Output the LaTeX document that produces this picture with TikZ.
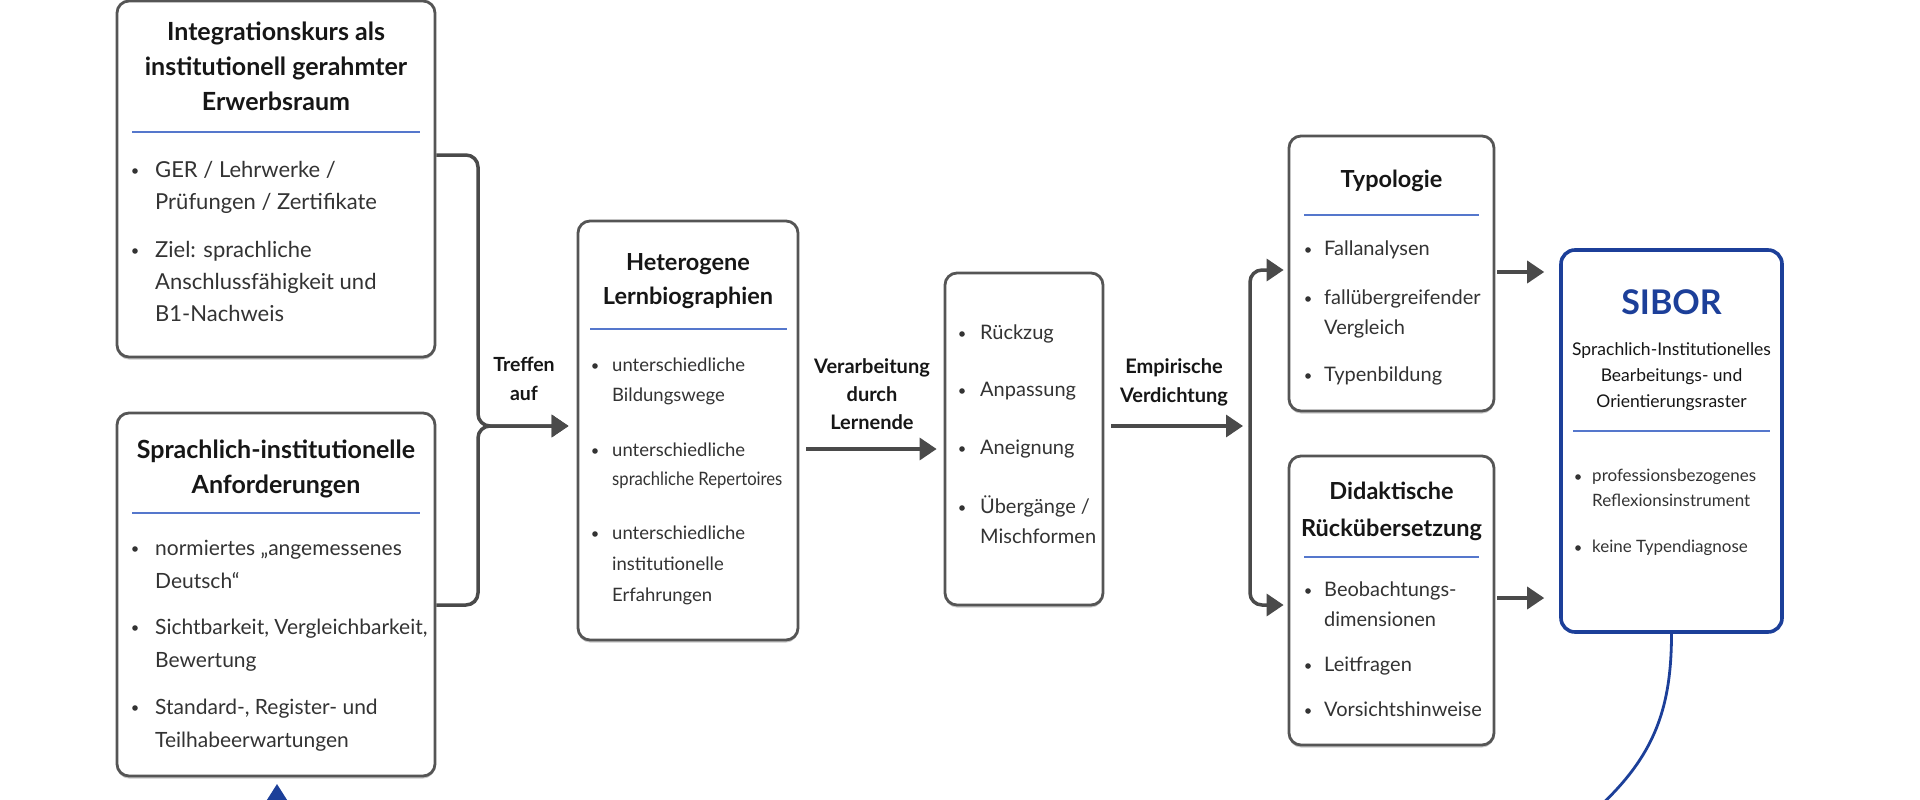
\documentclass[tikz,border=0pt]{standalone}
\usepackage{fontspec}
\setmainfont{Lato}
\usetikzlibrary{arrows.meta,shadows,calc}
\definecolor{boxgray}{HTML}{555555}
\definecolor{arrowgray}{HTML}{4A4A4A}
\definecolor{rulebl}{HTML}{5577CC}
\definecolor{siborbl}{HTML}{1C3F99}
\definecolor{bodycol}{HTML}{333333}
\definecolor{titlecol}{HTML}{161616}
\newcommand\mytxt[7]{\node[#2, font=#3] (#1) at (#5,{#6-0.57*#4}) {\rule{0pt}{\dimexpr #4pt*9/10\relax}#7};}
\newcommand\mybul[7]{\fill[bodycol] (#4,#6+1) circle (2.8pt);\mytxt{#1}{itmS}{\fontsize{#2}{#3}\selectfont}{#2}{#5}{#6}{#7}}
\tikzset{
 box/.style={draw=boxgray, line width=2.8pt, rounded corners=12pt, fill=white, inner sep=0pt,
   drop shadow={shadow xshift=0pt, shadow yshift=-2.5pt, opacity=.35, fill=black!60}},
 siborbox/.style={draw=siborbl, line width=3.6pt, rounded corners=14pt, fill=white, inner sep=0pt},
 ttlS/.style={anchor=north, align=center, inner sep=0pt, text=titlecol},
 itmS/.style={anchor=north west, align=left, inner sep=0pt, text=bodycol},
 conn/.style={draw=arrowgray, line width=3.5pt, -{Triangle[length=17pt,width=22pt]}},
 fb/.style={draw=siborbl, line width=2.8pt, -{Triangle[length=18pt,width=22pt]}},
 brule/.style={draw=rulebl, line width=2.5pt},
}
\begin{document}
\begin{tikzpicture}[x=1pt,y=-1pt]
\useasboundingbox (0,0) rectangle (1920,800);
\fill[white] (0,0) rectangle (1920,800);
\clip (0,0) rectangle (1920,800);

% boxes
\node[box, minimum width=318pt, minimum height=356pt] (b1) at (276,179) {};
\node[box, minimum width=318pt, minimum height=363pt] (b2) at (276,594.5) {};
\node[box, minimum width=220pt, minimum height=419pt] (b3) at (688,430.5) {};
\node[box, minimum width=158pt, minimum height=332pt] (b4) at (1024,439) {};
\node[box, minimum width=205pt, minimum height=275pt] (typ) at (1391.5,273.5) {};
\node[box, minimum width=205pt, minimum height=289pt] (did) at (1391.5,600.5) {};
\node[siborbox, minimum width=221pt, minimum height=382pt] (sib) at (1671.5,441) {};

% box 1
\mytxt{t1}{ttlS}{\bfseries\fontsize{25}{35}\selectfont}{25}{276}{32}{Integrationskurs als\\institutionell gerahmter\\Erwerbsraum}
\draw[brule] (132,132) -- (420,132);
\mybul{i11}{22}{32}{135}{155}{170}{GER / Lehrwerke /\\Prüfungen / Zertifikate}
\mybul{i12}{22}{32}{135}{155}{250}{Ziel: sprachliche\\Anschlussfähigkeit und\\B1-Nachweis}

% box 2
\mytxt{t2}{ttlS}{\bfseries\fontsize{25}{35}\selectfont}{25}{276}{450}{Sprachlich-institutionelle\\Anforderungen}
\draw[brule] (132,513) -- (420,513);
\mybul{i21}{21}{33}{135}{155}{548}{normiertes „angemessenes\\Deutsch“}
\mybul{i22}{21}{33}{135}{155}{627}{Sichtbarkeit, Vergleichbarkeit,\\Bewertung}
\mybul{i23}{21}{33}{135}{155}{707}{Standard-, Register- und\\Teilhabeerwartungen}

% box 3
\mytxt{t3}{ttlS}{\bfseries\fontsize{23.5}{34}\selectfont}{23.5}{688}{263}{Heterogene\\Lernbiographien}
\draw[brule] (590,329) -- (787,329);
\mybul{i31}{18.5}{30}{595}{612}{365}{unterschiedliche\\Bildungswege}
\mybul{i32}{18.5}{29}{595}{612}{450}{unterschiedliche\\{\addfontfeatures{FakeStretch=0.9}sprachliche Repertoires}}
\mybul{i33}{18.5}{31}{595}{612}{533}{unterschiedliche\\institutionelle\\Erfahrungen}

% box 4
\mybul{i41}{20}{30}{962}{980}{333}{Rückzug}
\mybul{i42}{20}{30}{962}{980}{390}{Anpassung}
\mybul{i43}{20}{30}{962}{980}{448}{Aneignung}
\mybul{i44}{20}{30}{962}{980}{507}{Übergänge /\\Mischformen}

% Typologie
\mytxt{t5}{ttlS}{\bfseries\fontsize{23.5}{34}\selectfont}{23.5}{1391.5}{180}{Typologie}
\draw[brule] (1304,215) -- (1479,215);
\mybul{i51}{20}{30}{1308}{1324}{249}{Fallanalysen}
\mybul{i52}{20}{30}{1308}{1324}{298}{fallübergreifender\\Vergleich}
\mybul{i53}{20}{30}{1308}{1324}{375}{Typenbildung}

% Didaktische
\mytxt{t6}{ttlS}{\bfseries\fontsize{23.5}{37}\selectfont}{23.5}{1391.5}{492}{Didaktische\\Rückübersetzung}
\draw[brule] (1304,557) -- (1479,557);
\mybul{i61}{20}{30}{1308}{1324}{590}{Beobachtungs-\\dimensionen}
\mybul{i62}{20}{30}{1308}{1324}{665}{Leitfragen}
\mybul{i63}{20}{30}{1308}{1324}{710}{Vorsichtshinweise}

% SIBOR
\node[font=\bfseries\fontsize{34}{40}\selectfont, text=siborbl, inner sep=0pt] (sibT) at (1671.5,302) {SIBOR};
\mytxt{sibS}{ttlS}{\fontsize{17.5}{26}\selectfont}{17.5}{1671.5}{350}{Sprachlich-Institutionelles\\Bearbeitungs- und\\Orientierungsraster}
\draw[brule] (1573,431) -- (1770,431);
\mybul{i71}{17}{25}{1578}{1592}{476}{professionsbezogenes\\Reflexionsinstrument}
\mybul{i72}{17}{25}{1578}{1592}{547}{keine Typendiagnose}

% labels
\mytxt{l1}{ttlS}{\bfseries\fontsize{19.5}{29}\selectfont}{19.5}{524}{365}{Treffen\\auf}
\mytxt{l2}{ttlS}{\bfseries\fontsize{20}{28}\selectfont}{20}{872}{367}{Verarbeitung\\durch\\Lernende}
\mytxt{l3}{ttlS}{\bfseries\fontsize{20}{29}\selectfont}{20}{1174}{367}{Empirische\\Verdichtung}

% connectors
\coordinate (jT) at (478,155);
\coordinate (jB) at (478,605);
\coordinate (jM) at (478,426);
\draw[conn, rounded corners=12pt, shorten >=8pt] (b1.east |- jT) -- (jT) -- (jM) -- (b3.west |- jM);
\draw[conn, rounded corners=12pt, shorten >=8pt] (b2.east |- jB) -- (jB) -- (jM) -- (b3.west |- jM);
\coordinate (v1) at (870,449);
\draw[conn, shorten <=7pt, shorten >=7pt] (b3.east |- v1) -- (b4.west |- v1);
\coordinate (sp) at (1250,426);
\coordinate (spT) at (1250,270);
\coordinate (spB) at (1250,605);
\draw[conn, shorten <=7pt, shorten >=7pt] (b4.east |- sp) -- (sp);
\draw[conn, rounded corners=12pt, shorten >=4pt] (sp) -- (spT) -- (typ.west |- spT);
\draw[conn, rounded corners=12pt, shorten >=4pt] (sp) -- (spB) -- (did.west |- spB);
\coordinate (tA) at (1520,272);
\coordinate (dA) at (1520,598);
\draw[conn, shorten <=2pt, shorten >=15pt] (typ.east |- tA) -- (sib.west |- tA);
\draw[conn, shorten <=2pt, shorten >=15pt] (did.east |- dA) -- (sib.west |- dA);
\coordinate (fbEnd) at (277,784);
\draw[fb] (sib.south) .. controls +(0,83) and (1650,765) .. (1582,822) -- (1400,880) -- (277,880) -- (fbEnd);
\end{tikzpicture}
\end{document}
